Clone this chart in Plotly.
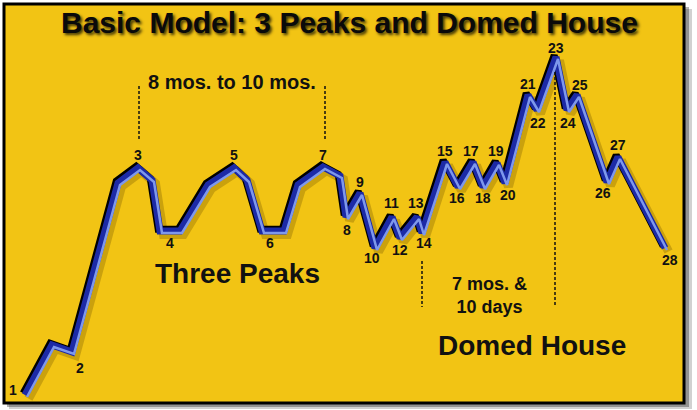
import plotly.graph_objects as go

W, H = 697, 410

# ---- data: time positions and price levels ----
wave_time = [25, 52, 72, 118, 138, 152, 160, 180, 208, 234, 247, 262, 284, 298,
             323, 340, 346, 360, 375, 392, 400, 417, 422, 445, 458, 473, 483,
             497, 505, 528, 537, 556, 567, 577, 607, 618, 665]
wave_price = [15, 65, 58, 227, 242, 230, 179, 179, 225, 242, 230, 179, 179, 225,
              243, 234, 193, 217, 162, 193, 172, 193, 177, 248, 223, 248, 223,
              247, 227, 315, 300, 353, 300, 315, 228, 253, 162]

point_labels = ["1", "2", "3", "4", "5", "6", "7", "8", "9", "10", "11", "12", "13", "14",
                "15", "16", "17", "18", "19", "20", "21", "22", "23", "24", "25", "26",
                "27", "28"]
# vertex index (or pair of indices, averaged) each label refers to
label_vertex = [(0,), (2,), (4,), (6, 7), (9,), (11, 12), (14,), (16,), (17,), (18,),
                (19,), (20,), (21,), (22,), (23,), (24,), (25,), (26,), (27,), (28,),
                (29,), (30,), (31,), (32,), (33,), (34,), (35,), (36,)]

# ---- styles: label offsets in pixels (dx right, dy down) ----
label_offset = [(-12, -5), (8, 16), (0, -13), (0, 12), (0, -13), (-3, 12), (0, -12),
                (1, 13), (0, -11), (-3, 10), (-1, -14), (0, 12), (-1, -14), (2, 10),
                (0, -11), (-1, 11), (-2, -11), (0, 11), (-1, -12), (3, 12),
                (0, -11), (1, 13), (0, -9), (1, 13), (3, -10), (-4, 11), (0, -12), (5, 12)]

FONT = "Liberation Sans, Arial, Helvetica, sans-serif"
YELLOW = "#F2C414"


def py(ypix):
    return H - ypix


fig = go.Figure()

def shifted(dx, dy):
    return [t + dx for t in wave_time], [p - dy for p in wave_price]

# soft drop shadow
xs, ys = shifted(3.5, 3.5)
fig.add_trace(go.Scatter(x=xs, y=ys, mode="lines",
                         line=dict(color="rgba(110,80,0,0.30)", width=9),
                         hoverinfo="skip"))
# black upper-left bevel edge
xs, ys = shifted(-1.8, -1.8)
fig.add_trace(go.Scatter(x=xs, y=ys, mode="lines",
                         line=dict(color="#000000", width=7),
                         hoverinfo="skip"))
# dark blue body
fig.add_trace(go.Scatter(x=wave_time, y=wave_price, mode="lines",
                         line=dict(color="#1C2AA6", width=7),
                         hoverinfo="skip"))
# light blue lower-right highlight
xs, ys = shifted(2.0, 2.0)
fig.add_trace(go.Scatter(x=xs, y=ys, mode="lines",
                         line=dict(color="#7E98EC", width=2.5),
                         hoverinfo="skip"))

annotations = []
for txt, vids, (dx, dy) in zip(point_labels, label_vertex, label_offset):
    x = sum(wave_time[i] for i in vids) / len(vids)
    y = sum(wave_price[i] for i in vids) / len(vids)
    annotations.append(dict(x=x + dx, y=y - dy, text=txt, showarrow=False,
                            font=dict(family=FONT, size=14, color="#111111", weight="bold"),
                            xanchor="center", yanchor="middle"))

annotations += [
    dict(x=349, y=py(22), text="Basic Model: 3 Peaks and Domed House", showarrow=False,
         font=dict(family=FONT, size=30, color="#0A0A0A", weight="bold",
                   shadow="2px 2px 3px rgba(0,0,0,0.75)"),
         xanchor="center", yanchor="middle"),
    dict(x=232, y=py(82), text="8 mos. to 10 mos.", showarrow=False,
         font=dict(family=FONT, size=20, color="#111111", weight="bold"),
         xanchor="center", yanchor="middle"),
    dict(x=237, y=py(273), text="Three Peaks", showarrow=False,
         font=dict(family=FONT, size=28, color="#111111", weight="bold"),
         xanchor="center", yanchor="middle"),
    dict(x=532, y=py(345), text="Domed House", showarrow=False,
         font=dict(family=FONT, size=28, color="#111111", weight="bold"),
         xanchor="center", yanchor="middle"),
    dict(x=489, y=py(295), text="7 mos. &<br>10 days", showarrow=False,
         font=dict(family=FONT, size=18, color="#111111", weight="bold"),
         xanchor="center", yanchor="middle"),
]

shapes = [
    # frame shadow
    dict(type="rect", xref="x", yref="y", x0=9, x1=692, y0=py(409), y1=py(9),
         fillcolor="rgba(0,0,0,0.18)", line=dict(width=0), layer="below"),
    dict(type="rect", xref="x", yref="y", x0=7, x1=689, y0=py(407), y1=py(7),
         fillcolor="rgba(0,0,0,0.30)", line=dict(width=0), layer="below"),
    # yellow board with black frame
    dict(type="rect", xref="x", yref="y", x0=4, x1=684, y0=py(403), y1=py(4),
         fillcolor=YELLOW, line=dict(color="#000000", width=3), layer="below"),
    # dashed timing lines
    dict(type="line", xref="x", yref="y", x0=139, x1=139, y0=py(86), y1=py(140),
         line=dict(color="#111111", width=1.5, dash="3px,2px")),
    dict(type="line", xref="x", yref="y", x0=325, x1=325, y0=py(86), y1=py(140),
         line=dict(color="#111111", width=1.5, dash="3px,2px")),
    dict(type="line", xref="x", yref="y", x0=422, x1=422, y0=py(261), y1=py(307),
         line=dict(color="#111111", width=1.5, dash="3px,2px")),
    dict(type="line", xref="x", yref="y", x0=555, x1=555, y0=py(72), y1=py(306),
         line=dict(color="#111111", width=1.5, dash="3px,2px")),
]

fig.update_layout(
    width=W, height=H,
    margin=dict(l=0, r=0, t=0, b=0),
    paper_bgcolor="#FFFFFF", plot_bgcolor="rgba(0,0,0,0)",
    showlegend=False,
    xaxis=dict(range=[0, W], visible=False, fixedrange=True),
    yaxis=dict(range=[0, H], visible=False, fixedrange=True),
    annotations=annotations, shapes=shapes,
)

fig.write_html("out.html", config={"displayModeBar": False},
               post_script="document.body.style.margin='0';document.body.style.overflow='hidden';")
